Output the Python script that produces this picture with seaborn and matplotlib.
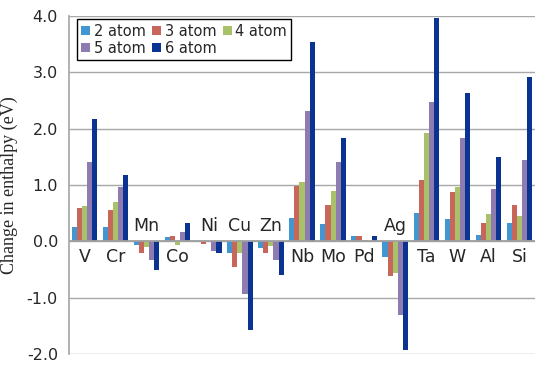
import matplotlib
matplotlib.use("Agg")
import matplotlib.pyplot as plt
import seaborn as sns
import pandas as pd
import numpy as np

elements = ["V", "Cr", "Mn", "Co", "Ni", "Cu", "Zn", "Nb", "Mo", "Pd", "Ag", "Ta", "W", "Al", "Si"]
series = ["2 atom", "3 atom", "4 atom", "5 atom", "6 atom"]
atom2 = [0.26, 0.26, -0.07, 0.08, -0.02, -0.21, -0.12, 0.42, 0.30, 0.09, -0.28, 0.50, 0.40, 0.12, 0.32]
atom3 = [0.60, 0.56, -0.20, 0.10, -0.05, -0.46, -0.20, 0.98, 0.65, 0.09, -0.62, 1.08, 0.87, 0.32, 0.65]
atom4 = [0.63, 0.70, -0.10, -0.07, 0.01, -0.21, -0.09, 1.05, 0.90, 0.02, -0.56, 1.93, 0.97, 0.49, 0.45]
atom5 = [1.40, 0.97, -0.33, 0.17, -0.17, -0.94, -0.33, 2.32, 1.40, -0.02, -1.30, 2.47, 1.84, 0.93, 1.44]
atom6 = [2.18, 1.18, -0.50, 0.33, -0.20, -1.58, -0.60, 3.53, 1.84, 0.09, -1.93, 3.96, 2.63, 1.50, 2.91]
label_above = ["Mn", "Ni", "Cu", "Zn", "Ag"]
yticks = [-2.0, -1.0, 0.0, 1.0, 2.0, 3.0, 4.0]
colors = ["#4397d0", "#c9665b", "#a9c26a", "#8e7cb0", "#0b3391"]

rows = []
for s, vals in zip(series, [atom2, atom3, atom4, atom5, atom6]):
    for e, v in zip(elements, vals):
        rows.append({"element": e, "series": s, "value": v})
df = pd.DataFrame(rows)

sns.set_theme(style="white")
plt.rcParams['font.family'] = ['DejaVu Sans']

fig = plt.figure(figsize=(5.39, 3.65), dpi=100)
top_px, bot_px = 16, 354
ax = fig.add_axes([69/539, (365-bot_px)/365, (535-69)/539, (bot_px-top_px)/365])

sns.barplot(data=df, x="element", y="value", hue="series", order=elements,
            hue_order=series, palette=colors, width=0.82, ax=ax, saturation=1,
            edgecolor="none", legend=True)

ax.set_ylim(-2, 4)
ax.set_xlim(-0.5, len(elements) - 0.5)
ax.set_yticks(yticks)
ax.set_yticklabels([f"{t:.1f}" for t in yticks], fontsize=11.5)
ax.yaxis.grid(True, color="#a8a8a8", linewidth=1.0)
ax.set_axisbelow(True)
ax.axhline(0, color="#a0a0a0", linewidth=1.3, zorder=3)
ax.set_xticks([])
ax.set_xlabel("")
ax.set_ylabel("Change in enthalpy (eV)", family="Liberation Serif", fontsize=13, labelpad=6)
ax.tick_params(axis="y", length=0, pad=8)
for sp in ["top", "right", "bottom"]:
    ax.spines[sp].set_visible(False)
ax.spines["left"].set_color("#a8a8a8")

for i, e in enumerate(elements):
    if e in label_above:
        ax.text(i, 0.27, e, ha="center", va="center", fontsize=12.5, zorder=5,
                bbox=dict(facecolor="white", edgecolor="none", pad=1.5))
    else:
        ax.text(i, -0.27, e, ha="center", va="center", fontsize=12.5, zorder=5)

handles, labels = ax.get_legend_handles_labels()
order = [0, 3, 1, 4, 2]
leg = ax.legend([handles[k] for k in order], [labels[k] for k in order],
                loc="upper left", bbox_to_anchor=(0.017, 0.99), ncol=3, fontsize=10.5,
                frameon=True, fancybox=False, framealpha=1, edgecolor="black",
                handlelength=0.6, handleheight=0.6, handletextpad=0.25,
                columnspacing=0.45, borderpad=0.3, labelspacing=0.15, borderaxespad=0)
leg.get_frame().set_linewidth(1.0)
leg.set_zorder(10)

fig.savefig("out.png", dpi=100)
